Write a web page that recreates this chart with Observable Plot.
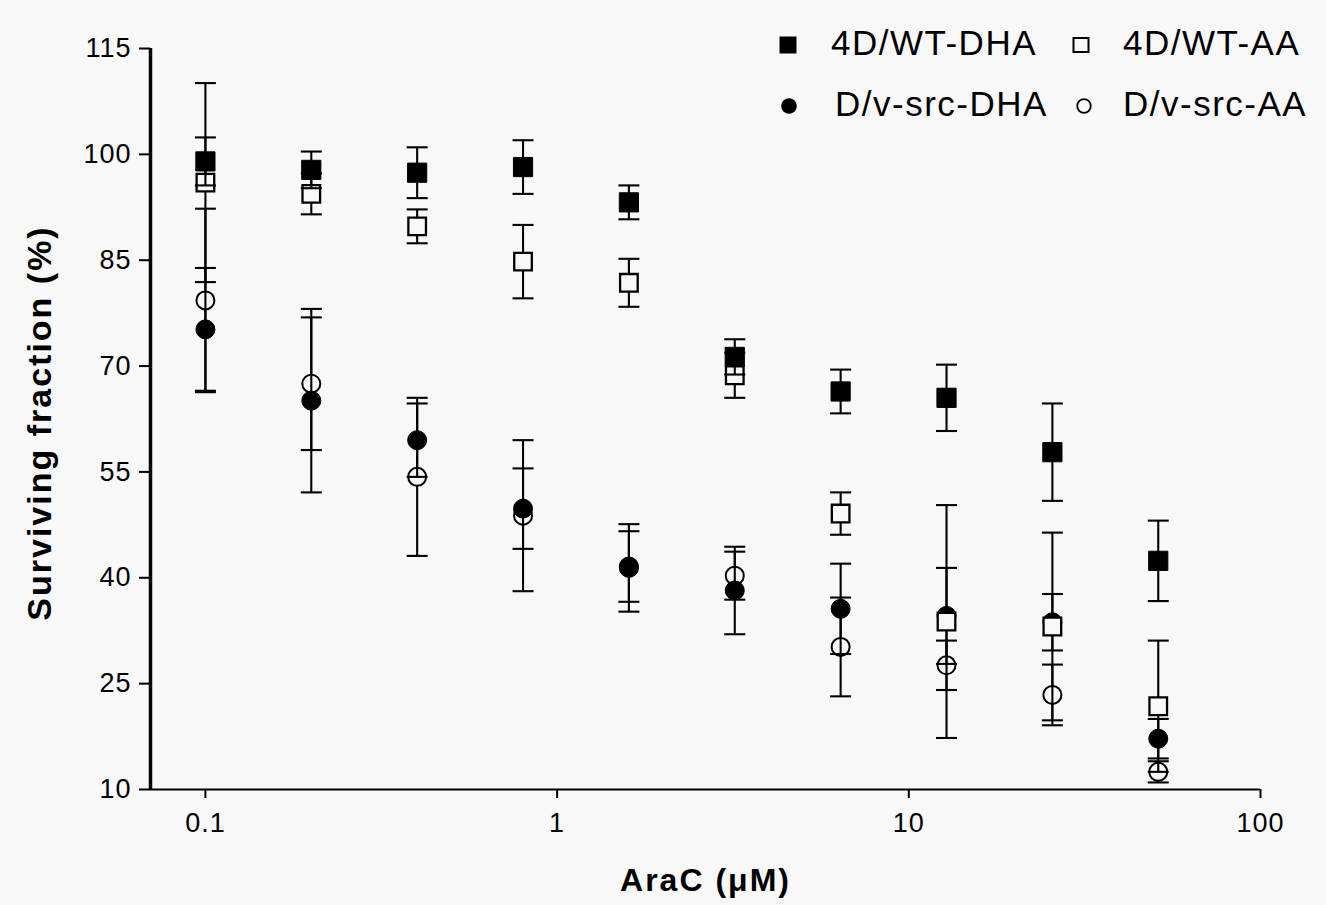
<!DOCTYPE html>
<html>
<head>
<meta charset="utf-8">
<script src="https://cdn.jsdelivr.net/npm/d3@7"></script>
<script src="https://cdn.jsdelivr.net/npm/@observablehq/plot@0.6"></script>
<style>
  html, body { margin: 0; padding: 0; background: #f8f8f8; }
  #wrap { position: relative; width: 1326px; height: 905px; overflow: hidden; }
  #wrap svg text { letter-spacing: 2px; }
  #wrap svg g[aria-label="y-axis tick label"] text,
  #wrap svg g[aria-label="x-axis tick label"] text { letter-spacing: 1px; }
  .leg { position: absolute; font-family: "Liberation Sans", Arial, sans-serif; font-size: 35px;
         letter-spacing: 1.5px; color: #000; white-space: nowrap; line-height: 1; }
  .legmark { position: absolute; }
</style>
</head>
<body>
<div id="wrap"></div>
<script>
// ---------------- data ----------------
const conc = [0.1, 0.2, 0.4, 0.8, 1.6, 3.2, 6.4, 12.8, 25.6, 51.2];

const seriesNames = ["4D/WT-DHA", "4D/WT-AA", "D/v-src-DHA", "D/v-src-AA"];

const wtDHA      = [99.0, 97.8, 97.4, 98.2, 93.2, 71.3, 66.4, 65.5, 57.8, 42.4];
const wtDHAErr   = [3.4,  2.6,  3.6,  3.8,  2.4,  2.5,  3.1,  4.7,  6.9,  5.7];

const wtAA       = [96.0, 94.4, 89.8, 84.8, 81.8, 68.7, 49.1, 33.8, 33.1, 21.8];
const wtAAErr    = [14.1, 2.9,  2.4,  5.2,  3.4,  3.2,  3.0,  16.5, 13.3, 9.3];

const srcDHA     = [75.2, 65.1, 59.5, 49.8, 41.4, 38.2, 35.6, 34.6, 33.7, 17.2];
const srcDHAErr  = [8.7,  13.0, 5.2,  5.7,  6.2,  6.2,  6.4,  6.8,  4.0,  2.8];

const srcAA      = [79.3, 67.5, 54.3, 48.8, 41.6, 40.3, 30.2, 27.6, 23.4, 12.5];
const srcAAErr   = [13.0, 9.4,  11.2, 10.7, 5.0,  3.4,  7.0,  3.5,  4.3,  1.5];

const xDomain = [0.0698, 100];
const yDomain = [10, 115];
const xTicks = [0.1, 1, 10, 100];
const xTickLabels = ["0.1", "1", "10", "100"];
const yTicks = [10, 25, 40, 55, 70, 85, 100, 115];
const xLabel = "AraC (μM)";
const yLabel = "Surviving fraction (%)";

// ---------------- helpers ----------------
function rows(mean, err) {
  return conc.map((c, i) => ({conc: c, mean: mean[i], lo: mean[i] - err[i], hi: mean[i] + err[i]}));
}
const capSymbol = {draw(ctx, size) { const r = Math.sqrt(size / Math.PI); ctx.moveTo(-r, 0); ctx.lineTo(r, 0); }};
const squareSymbol = {draw(ctx, size) { const r = Math.sqrt(size / Math.PI); ctx.rect(-r, -r, 2 * r, 2 * r); }};

const BG = "#f8f8f8";
const ebW = 2.1;
function errorBars(d) {
  return [
    Plot.ruleX(d, {x: "conc", y1: "lo", y2: "hi", stroke: "#000", strokeWidth: ebW}),
    Plot.dot(d, {x: "conc", y: "lo", symbol: capSymbol, r: 10.5, fill: "none", stroke: "#000", strokeWidth: ebW}),
    Plot.dot(d, {x: "conc", y: "hi", symbol: capSymbol, r: 10.5, fill: "none", stroke: "#000", strokeWidth: ebW})
  ];
}

const dWtDHA = rows(wtDHA, wtDHAErr);
const dWtAA = rows(wtAA, wtAAErr);
const dSrcDHA = rows(srcDHA, srcDHAErr);
const dSrcAA = rows(srcAA, srcAAErr);

const chart = Plot.plot({
  width: 1326,
  height: 905,
  marginLeft: 150,
  marginRight: 66,
  marginTop: 48,
  marginBottom: 116,
  style: {background: BG, fontFamily: "'Liberation Sans', Arial, sans-serif", color: "#000"},
  x: {type: "log", domain: xDomain},
  y: {domain: yDomain},
  marks: [
    Plot.axisY({ticks: yTicks, tickSize: 11, tickPadding: 8, fontSize: 27, label: null, strokeWidth: 2}),
    Plot.axisX({ticks: xTicks, tickFormat: d => xTickLabels[xTicks.indexOf(d)], tickSize: 9, tickPadding: 14, fontSize: 27, label: null, strokeWidth: 2}),
    Plot.ruleY([yDomain[0]], {stroke: "#000", strokeWidth: 2.2}),
    Plot.ruleX([xDomain[0]], {stroke: "#000", strokeWidth: 3.5}),
    Plot.text([yLabel], {frameAnchor: "left", rotate: -90, textAnchor: "middle", lineAnchor: "middle", dx: -110, dy: 4, fontSize: 34, fontWeight: "bold"}),
    Plot.text([xLabel], {frameAnchor: "bottom", textAnchor: "middle", lineAnchor: "middle", dy: 91, fontSize: 32, fontWeight: "bold"}),
    // D/v-src-AA: open circles
    ...errorBars(dSrcAA),
    Plot.dot(dSrcAA, {x: "conc", y: "mean", r: 9, fill: BG, stroke: "#000", strokeWidth: 2}),
    // D/v-src-DHA: filled circles
    ...errorBars(dSrcDHA),
    Plot.dot(dSrcDHA, {x: "conc", y: "mean", r: 9.5, fill: "#000", stroke: "#000", strokeWidth: 1}),
    // 4D/WT-AA: open squares
    ...errorBars(dWtAA),
    Plot.dot(dWtAA, {x: "conc", y: "mean", symbol: squareSymbol, r: 8.8, fill: BG, stroke: "#000", strokeWidth: 2.3}),
    // 4D/WT-DHA: filled squares
    ...errorBars(dWtDHA),
    Plot.dot(dWtDHA, {x: "conc", y: "mean", symbol: squareSymbol, r: 9.6, fill: "#000", stroke: "#000", strokeWidth: 1})
  ]
});

const wrap = document.getElementById("wrap");
wrap.appendChild(chart);

// ---------------- legend (HTML overlay) ----------------
const legendKinds = ["filledSquare", "openSquare", "filledCircle", "openCircle"];
const legendLayout = [
  {mx: 788, tx: 831, y: 45},
  {mx: 1081, tx: 1123, y: 45},
  {mx: 789, tx: 835, y: 106},
  {mx: 1084, tx: 1123, y: 106}
];
function markerSvg(kind) {
  const s = 24, c = 12;
  let shape = "";
  if (kind === "filledSquare") shape = `<rect x="${c-8.5}" y="${c-8.5}" width="17" height="17" fill="#000"/>`;
  if (kind === "openSquare") shape = `<rect x="${c-7.5}" y="${c-7}" width="15" height="14" fill="none" stroke="#000" stroke-width="2"/>`;
  if (kind === "filledCircle") shape = `<circle cx="${c}" cy="${c}" r="7.8" fill="#000"/>`;
  if (kind === "openCircle") shape = `<circle cx="${c}" cy="${c}" r="6.8" fill="none" stroke="#000" stroke-width="1.8"/>`;
  return `<svg width="${s}" height="${s}" viewBox="0 0 ${s} ${s}">${shape}</svg>`;
}
seriesNames.forEach((name, i) => {
  const L = legendLayout[i];
  const m = document.createElement("div");
  m.className = "legmark";
  m.style.left = (L.mx - 12) + "px";
  m.style.top = (L.y - 12) + "px";
  m.style.width = "24px"; m.style.height = "24px";
  m.innerHTML = markerSvg(legendKinds[i]);
  wrap.appendChild(m);
  const t = document.createElement("div");
  t.className = "leg";
  t.textContent = name;
  t.style.left = L.tx + "px";
  t.style.top = (L.y - 20) + "px";
  wrap.appendChild(t);
});
</script>
</body>
</html>
